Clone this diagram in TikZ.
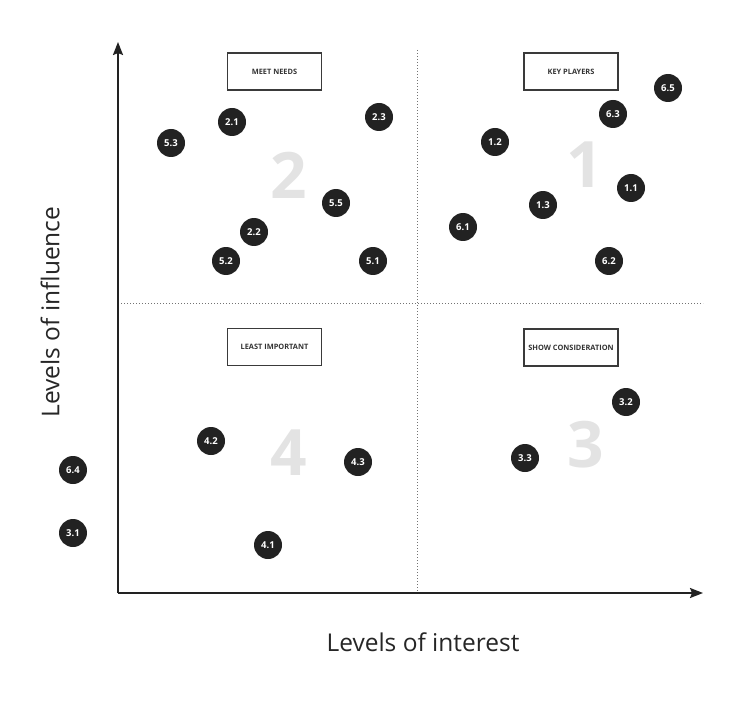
\documentclass[tikz,border=0pt]{standalone}
\usepackage{fontspec}
\setmainfont{Open Sans}
\usetikzlibrary{arrows.meta}
\definecolor{dot}{HTML}{222222}
\definecolor{bigno}{HTML}{E3E3E3}
\definecolor{boxline}{HTML}{3A3A3A}
\begin{document}
\begin{tikzpicture}[x=1pt,y=-1pt,
  stake/.style={circle,fill=dot,minimum size=28pt,inner sep=0pt,text=white,font=\bfseries\fontsize{9.5}{10}\selectfont},
  qlabel/.style={draw=boxline,line width=1.4pt,minimum width=94pt,minimum height=37pt,inner sep=0pt,text=black!80,font=\bfseries\fontsize{7.4}{8}\selectfont},
  bignum/.style={text=bigno,font=\bfseries\fontsize{64}{64}\selectfont,inner sep=0pt},
  axis/.style={line width=2pt,draw=dot,-{Stealth[length=13pt,width=10pt,inset=2pt]}},
  divider/.style={dotted,line width=1pt,draw=black!55}]
\useasboundingbox (0,0) rectangle (730,719);
\coordinate (O) at (118,593);
\coordinate (ytop) at (118,42);
\coordinate (xend) at (703,593);
\coordinate (vtop) at (417,50);
\coordinate (vbot) at (417,593);
\coordinate (hl) at (118,303);
\coordinate (hr) at (703,303);
\draw[divider] (vtop) -- (vbot);
\draw[divider] (hl) -- (hr);
\draw[axis] (O) -- (ytop);
\draw[axis] (O) -- (xend);
\node[bignum] (n2) at (289,175) {2};
\node[bignum] (n1) at (585,165) {1};
\node[bignum] (n4) at (289,453) {4};
\node[bignum] (n3) at (586,445) {3};
\node[qlabel] (meet) at (274.5,71.5) {MEET NEEDS};
\node[qlabel] (key) at (571,71.5) {KEY PLAYERS};
\node[qlabel] (least) at (274.5,347) {LEAST IMPORTANT};
\node[qlabel] (show) at (571,347.5) {SHOW CONSIDERATION};
\node[stake] (s53) at (171,143) {5.3};
\node[stake] (s21) at (232,122) {2.1};
\node[stake] (s23) at (379,117) {2.3};
\node[stake] (s55) at (336,203) {5.5};
\node[stake] (s22) at (254,232) {2.2};
\node[stake] (s52) at (226,261) {5.2};
\node[stake] (s51) at (373,261) {5.1};
\node[stake] (s12) at (495,142) {1.2};
\node[stake] (s63) at (613,114) {6.3};
\node[stake] (s65) at (668,88) {6.5};
\node[stake] (s11) at (631,188) {1.1};
\node[stake] (s13) at (543,205) {1.3};
\node[stake] (s61) at (463,227) {6.1};
\node[stake] (s62) at (609,261) {6.2};
\node[stake] (s32) at (626,402) {3.2};
\node[stake] (s33) at (525,458) {3.3};
\node[stake] (s42) at (211,441) {4.2};
\node[stake] (s43) at (358,462) {4.3};
\node[stake] (s41) at (268,545) {4.1};
\node[stake] (s64) at (73,470) {6.4};
\node[stake] (s31) at (73,533) {3.1};
\node[font=\fontsize{24.5}{28}\selectfont,text=black!85] (xl) at (423,642) {Levels of interest};
\node[font=\fontsize{24.5}{28}\selectfont,text=black!85,rotate=90] (yl) at (50,312) {Levels of influence};
\end{tikzpicture}
\end{document}
